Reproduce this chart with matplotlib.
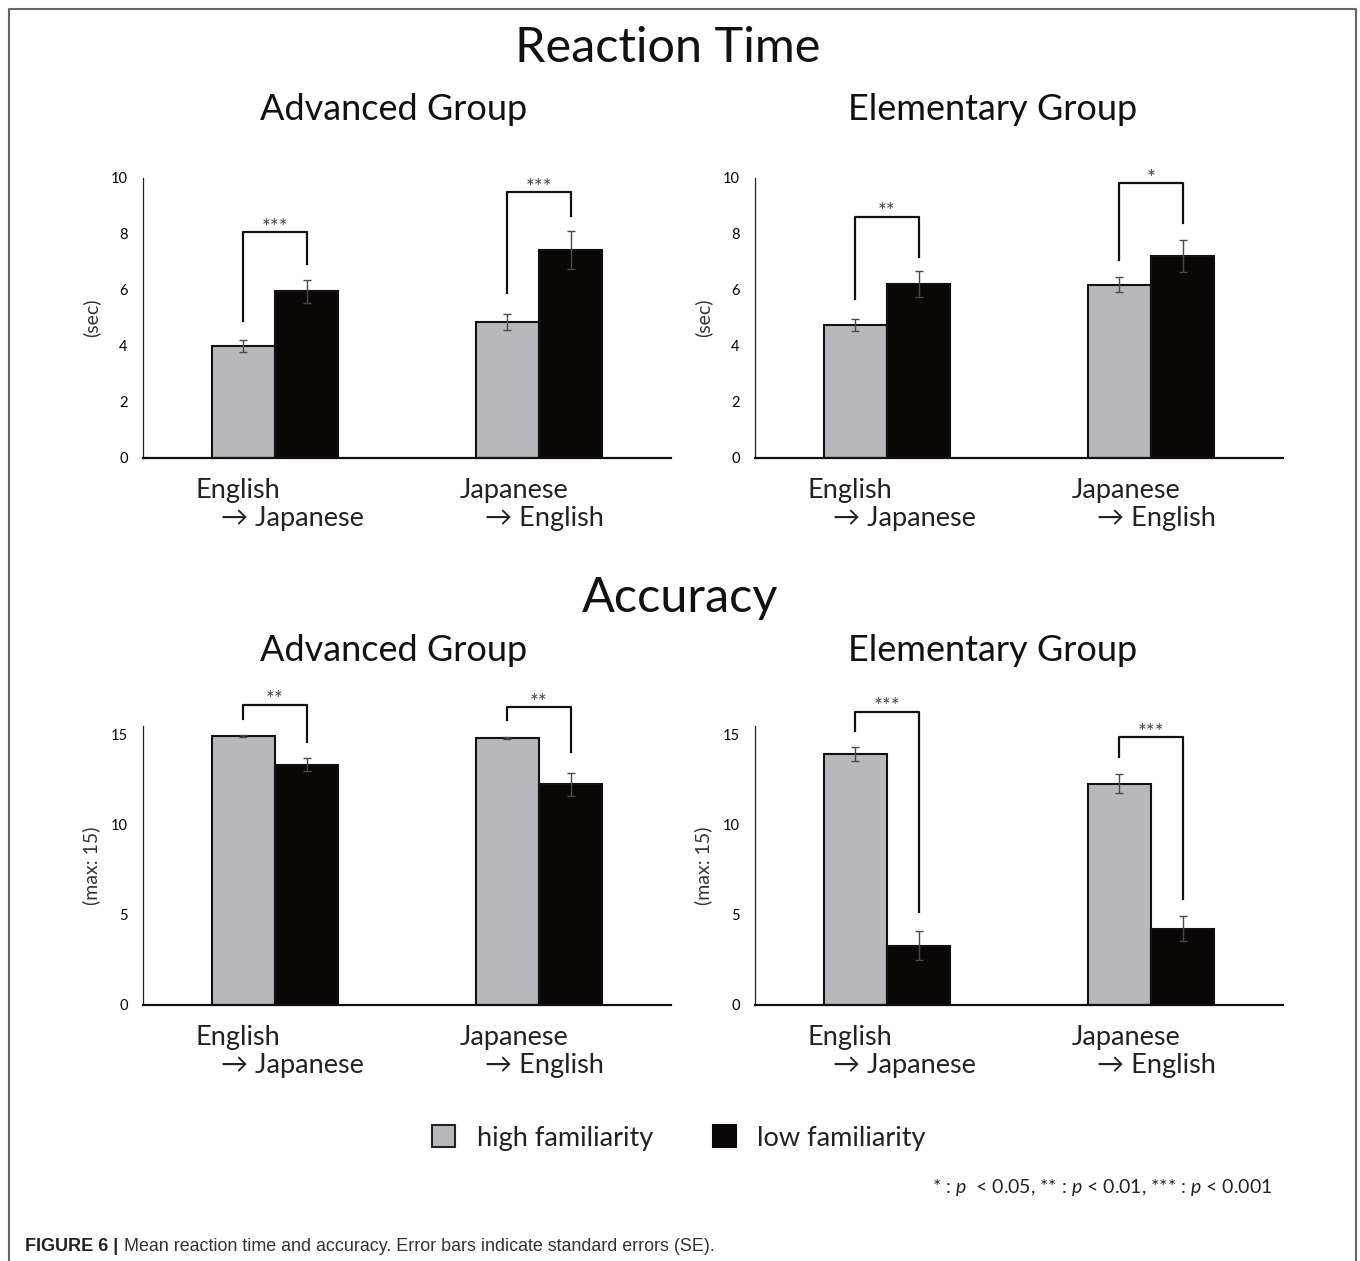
import numpy as np
import matplotlib
matplotlib.use("Agg")
import matplotlib.pyplot as plt
from matplotlib.patches import Patch
from matplotlib.lines import Line2D

plt.rcParams["font.family"] = ["Lato", "DejaVu Sans"]
plt.rcParams["mathtext.fontset"] = "custom"
plt.rcParams["mathtext.it"] = "Lato:italic"

# ---- data ----
categories_top = ["English", "Japanese"]
categories_bottom = ["→ Japanese", "→ English"]

rt_adv_high = [3.99, 4.85]
rt_adv_high_se = [0.23, 0.30]
rt_adv_low = [5.95, 7.41]
rt_adv_low_se = [0.41, 0.67]

rt_ele_high = [4.75, 6.18]
rt_ele_high_se = [0.22, 0.26]
rt_ele_low = [6.20, 7.20]
rt_ele_low_se = [0.47, 0.58]

acc_adv_high = [14.89, 14.79]
acc_adv_high_se = [0.05, 0.07]
acc_adv_low = [13.30, 12.21]
acc_adv_low_se = [0.37, 0.65]

acc_ele_high = [13.91, 12.24]
acc_ele_high_se = [0.38, 0.53]
acc_ele_low = [3.29, 4.23]
acc_ele_low_se = [0.78, 0.71]

# significance brackets: (left end, top, right end) and marks
rt_adv_brackets = [(4.89, 8.05, 6.91), (5.89, 9.48, 8.64)]
rt_adv_marks = ["***", "***"]
rt_ele_brackets = [(5.67, 8.61, 7.18), (7.06, 9.80, 8.37)]
rt_ele_marks = ["**", "*"]
acc_adv_brackets = [(15.85, 16.62, 14.55), (15.79, 16.47, 14.00)]
acc_adv_marks = ["**", "**"]
acc_ele_brackets = [(15.14, 16.22, 5.14), (13.72, 14.81, 5.86)]
acc_ele_marks = ["***", "***"]

rt_ticks = [0, 2, 4, 6, 8, 10]
acc_ticks = [0, 5, 10, 15]

GRAY = "#b8b7bb"
BLACK = "#0b0706"
W, H = 1360, 1261


def fx(px):
    return px / W


def fy(py):
    return 1 - py / H


def draw_panel(ax, high, high_se, low, low_se, brackets, marks, ylim, ticks, ylabel):
    x = np.arange(len(high))
    bw = 0.24
    ek = dict(ecolor="#4a4a4a", elinewidth=1.0, capsize=3, capthick=1.0)
    ax.bar(x - bw / 2, high, bw, yerr=high_se, color=GRAY, edgecolor="#111",
           linewidth=1.5, error_kw=ek, zorder=2)
    ax.bar(x + bw / 2, low, bw, yerr=low_se, color=BLACK, edgecolor="#111",
           linewidth=1.5, error_kw=ek, zorder=2)

    for xi, (lb, top, rb), mk in zip(x, brackets, marks):
        ax.plot([xi - bw / 2, xi - bw / 2, xi + bw / 2, xi + bw / 2], [lb, top, top, rb],
                color="#111", lw=1.6, clip_on=False, zorder=3)
        ax.annotate(mk, xy=(xi, top), xytext=(0, -1), textcoords="offset points",
                    ha="center", va="baseline", fontsize=15, color="#444",
                    annotation_clip=False)

    ax.set_xlim(-0.5, 1.5)
    ax.set_ylim(*ylim)
    ax.set_yticks(ticks)
    ax.tick_params(axis="y", length=0, pad=11, labelsize=10.5)
    ax.set_xticks([])
    for s in ["top", "right"]:
        ax.spines[s].set_visible(False)
    ax.spines["left"].set_linewidth(0.9)
    ax.spines["left"].set_color("#222")
    ax.spines["bottom"].set_linewidth(1.6)
    ax.spines["bottom"].set_color("#111")

    for xi, t1, t2 in zip(x, categories_top, categories_bottom):
        ax.annotate(t1, xy=(xi - 0.3, 0), xycoords=("data", "axes fraction"),
                    xytext=(0, -40), textcoords="offset pixels",
                    ha="left", va="baseline", fontsize=19.5, color="#222")
        ax.annotate(t2, xy=(xi - 0.205, 0), xycoords=("data", "axes fraction"),
                    xytext=(0, -68), textcoords="offset pixels",
                    ha="left", va="baseline", fontsize=19.5, color="#222")

    ax.set_ylabel(ylabel, fontsize=14, color="#333")
    ax.yaxis.set_label_coords(-0.081, 0.5)


fig = plt.figure(figsize=(13.6, 12.61), dpi=100)

ax1 = fig.add_axes([fx(143), fy(457.7), fx(528), 280 / H])
ax2 = fig.add_axes([fx(755), fy(457.7), fx(528), 280 / H])
ax3 = fig.add_axes([fx(143), fy(1005), fx(528), 279.3 / H])
ax4 = fig.add_axes([fx(755), fy(1005), fx(528), 279.3 / H])

draw_panel(ax1, rt_adv_high, rt_adv_high_se, rt_adv_low, rt_adv_low_se,
           rt_adv_brackets, rt_adv_marks, (0, 10), rt_ticks, "(sec)")
draw_panel(ax2, rt_ele_high, rt_ele_high_se, rt_ele_low, rt_ele_low_se,
           rt_ele_brackets, rt_ele_marks, (0, 10), rt_ticks, "(sec)")
draw_panel(ax3, acc_adv_high, acc_adv_high_se, acc_adv_low, acc_adv_low_se,
           acc_adv_brackets, acc_adv_marks, (0, 15.46), acc_ticks, "(max: 15)")
draw_panel(ax4, acc_ele_high, acc_ele_high_se, acc_ele_low, acc_ele_low_se,
           acc_ele_brackets, acc_ele_marks, (0, 15.46), acc_ticks, "(max: 15)")

# titles
fig.text(fx(668), fy(62), "Reaction Time", ha="center", va="baseline", fontsize=35, color="#111")
fig.text(fx(680), fy(612), "Accuracy", ha="center", va="baseline", fontsize=35, color="#111")
for yb in (120, 661):
    fig.text(fx(394), fy(yb), "Advanced Group", ha="center", va="baseline", fontsize=26, color="#111")
    fig.text(fx(993), fy(yb), "Elementary Group", ha="center", va="baseline", fontsize=26, color="#111")

# legend
handles = [Patch(facecolor=GRAY, edgecolor="#222", linewidth=1.5, label="high familiarity"),
           Patch(facecolor=BLACK, edgecolor=BLACK, linewidth=1.5, label="low familiarity")]
fig.legend(handles=handles, loc="center", bbox_to_anchor=(fx(679), fy(1138)), ncol=2,
           frameon=False, fontsize=19.5, handlelength=0.85, handleheight=0.85,
           handletextpad=0.8, columnspacing=2.2, labelcolor="#222")

fig.text(fx(1272), fy(1193),
         r"* : $\it{p}$  < 0.05, ** : $\it{p}$ < 0.01, *** : $\it{p}$ < 0.001",
         ha="right", va="baseline", fontsize=14, color="#222")

# caption
fig.text(fx(25), fy(1251), "FIGURE 6 |", ha="left", va="baseline", fontsize=13,
         fontweight="bold", family="Liberation Sans", color="#222")
fig.text(fx(124), fy(1251),
         "Mean reaction time and accuracy. Error bars indicate standard errors (SE).",
         ha="left", va="baseline", fontsize=12.9, family="Liberation Sans", color="#333")

# frame around the figure (open at the bottom)
frame = Line2D([fx(8.5), fx(8.5), fx(1355.5), fx(1355.5)], [0, fy(8.5), fy(8.5), 0],
               transform=fig.transFigure, color="#666", lw=1.5)
fig.add_artist(frame)

fig.savefig("out.png", dpi=100)
